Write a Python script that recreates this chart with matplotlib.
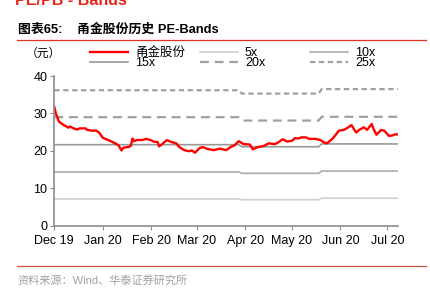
import matplotlib
matplotlib.use("Agg")
import matplotlib.pyplot as plt
import matplotlib.dates as mdates
import pandas as pd
from matplotlib.lines import Line2D

plt.rcParams['font.family'] = ['Liberation Sans', 'Noto Sans CJK SC', 'DejaVu Sans']

# 甬金股份 price (元)
price_dates = [
    "2019-12-24", "2019-12-25", "2019-12-27", "2019-12-30", "2020-01-02", "2020-01-03",
    "2020-01-06", "2020-01-08", "2020-01-09", "2020-01-13", "2020-01-14", "2020-01-17",
    "2020-01-20", "2020-01-22", "2020-01-24", "2020-01-29", "2020-02-01", "2020-02-03",
    "2020-02-05", "2020-02-06", "2020-02-10", "2020-02-11", "2020-02-12", "2020-02-13",
    "2020-02-15", "2020-02-18", "2020-02-21", "2020-02-24", "2020-02-26", "2020-02-28",
    "2020-02-29", "2020-03-02", "2020-03-05", "2020-03-07", "2020-03-11", "2020-03-13",
    "2020-03-16", "2020-03-19", "2020-03-21", "2020-03-23", "2020-03-26", "2020-03-28",
    "2020-03-31", "2020-04-04", "2020-04-08", "2020-04-12", "2020-04-15", "2020-04-17",
    "2020-04-20", "2020-04-23", "2020-04-27", "2020-04-29", "2020-05-02", "2020-05-06",
    "2020-05-09", "2020-05-13", "2020-05-15", "2020-05-18", "2020-05-21", "2020-05-24",
    "2020-05-26", "2020-05-28", "2020-05-30", "2020-06-02", "2020-06-04", "2020-06-08",
    "2020-06-11", "2020-06-13", "2020-06-15", "2020-06-16", "2020-06-19", "2020-06-21",
    "2020-06-23", "2020-06-26", "2020-06-28", "2020-07-01", "2020-07-04", "2020-07-06",
    "2020-07-09", "2020-07-11", "2020-07-14", "2020-07-15", "2020-07-17", "2020-07-20",
    "2020-07-22", "2020-07-25", "2020-07-27", "2020-07-29", "2020-07-31",
]
price = [
    31.7, 30.0, 27.8, 26.9, 26.2, 26.5,
    25.9, 25.7, 26.0, 26.0, 25.6, 25.4,
    25.4, 24.7, 23.5, 22.6, 22.0, 21.5,
    20.1, 20.8, 21.1, 21.4, 23.3, 22.6,
    22.9, 22.9, 23.2, 22.8, 22.4, 22.4,
    21.2, 21.8, 22.9, 22.5, 22.0, 21.0,
    20.2, 19.9, 20.1, 19.5, 20.8, 21.0,
    20.5, 20.2, 20.6, 20.2, 21.1, 21.4,
    22.6, 21.8, 21.7, 20.4, 21.0, 21.3,
    22.0, 21.8, 22.2, 23.1, 22.5, 22.7,
    23.4, 23.3, 23.6, 23.6, 23.2, 23.2,
    22.9, 22.4, 22.0, 22.2, 23.3, 24.3,
    25.4, 25.6, 26.0, 26.9, 24.9, 25.6,
    26.3, 25.6, 27.2, 26.0, 24.3, 25.6,
    25.4, 24.0, 24.1, 24.4, 24.4,
]

# PE band levels, stepping when EPS estimates change
band_dates = ["2019-12-24", "2020-04-20", "2020-04-22", "2020-06-10", "2020-06-12", "2020-07-31"]
pe5 = [7.14, 7.14, 6.95, 6.95, 7.35, 7.35]
pe10 = [14.35, 14.35, 14.0, 14.0, 14.6, 14.6]
pe15 = [21.65, 21.65, 21.1, 21.1, 21.85, 21.85]
pe20 = [29.0, 29.0, 28.1, 28.1, 29.1, 29.1]
pe25 = [36.2, 36.2, 35.3, 35.3, 36.5, 36.5]

xticks = pd.date_range("2019-12-24", periods=8, freq=pd.DateOffset(months=1))

pd_price = pd.to_datetime(price_dates)
pd_band = pd.to_datetime(band_dates)

fig = plt.figure(figsize=(4.3, 2.9), dpi=100)
ax = fig.add_axes([0.1263, 0.2217, 0.8, 0.5162])

l5, = ax.plot(pd_band, pe5, color="#d0d0d0", lw=1.2)
l10, = ax.plot(pd_band, pe10, color="#ababab", lw=1.2)
l15, = ax.plot(pd_band, pe15, color="#999999", lw=1.2)
l20, = ax.plot(pd_band, pe20, color="#a0a0a0", lw=1.6, dashes=(4.0, 2.6))
l25, = ax.plot(pd_band, pe25, color="#a0a0a0", lw=1.6, dashes=(2.4, 1.6))
lp, = ax.plot(pd_price, price, color="#ff0000", lw=1.7)

ax.set_xlim(pd.Timestamp("2019-12-24"), pd.Timestamp("2020-07-31"))
ax.set_ylim(0, 40)
ax.set_yticks([0, 10, 20, 30, 40])
ax.set_xticks(xticks)
ax.xaxis.set_major_formatter(mdates.DateFormatter("%b %y"))

for s in ["top", "right"]:
    ax.spines[s].set_visible(False)
for s in ["left", "bottom"]:
    ax.spines[s].set_color("#8c8c8c")
    ax.spines[s].set_linewidth(1.2)
ax.tick_params(axis="both", direction="out", length=3, color="#8c8c8c", labelsize=9,
               labelcolor="#000000", pad=2)
ax.tick_params(axis="x", pad=4)

# legend: three equal-width columns, two rows
cols = [([lp, l15], ["甬金股份", "15x"], 90),
        ([l5, l20], ["5x", "20x"], 200),
        ([l10, l25], ["10x", "25x"], 310)]
for hs, ls, xpx in cols:
    fig.legend(hs, ls, loc="upper left", bbox_to_anchor=(xpx / 430, 1 - 47 / 290),
               frameon=False, fontsize=9, handlelength=3.0, handletextpad=0.6,
               labelspacing=-0.12, borderaxespad=0, borderpad=0)

fig.text(0.1, 1 - 54 / 290, "（元）", fontsize=8.5, ha="center", va="center")

fig.text(0.035, 1 - 8 / 290, "PE/PB - Bands", color="#e8251b", fontsize=11.5,
         fontweight="bold", ha="left", va="bottom")
fig.text(0.042, 1 - 29.5 / 290, "图表65:    甬金股份历史 PE-Bands", fontsize=9.3,
         fontweight="bold", ha="left", va="center")
fig.add_artist(Line2D([17 / 430, 426 / 430], [1 - 39.5 / 290, 1 - 39.5 / 290],
                      color="#e0301e", lw=0.9))
fig.add_artist(Line2D([17 / 430, 426 / 430], [1 - 266.3 / 290, 1 - 266.3 / 290],
                      color="#c8503c", lw=0.9))
fig.text(0.04, 1 - 280 / 290, "资料来源：Wind、华泰证券研究所", fontsize=8,
         color="#a0a0a0", ha="left", va="center")

fig.savefig("out.png", dpi=100)
